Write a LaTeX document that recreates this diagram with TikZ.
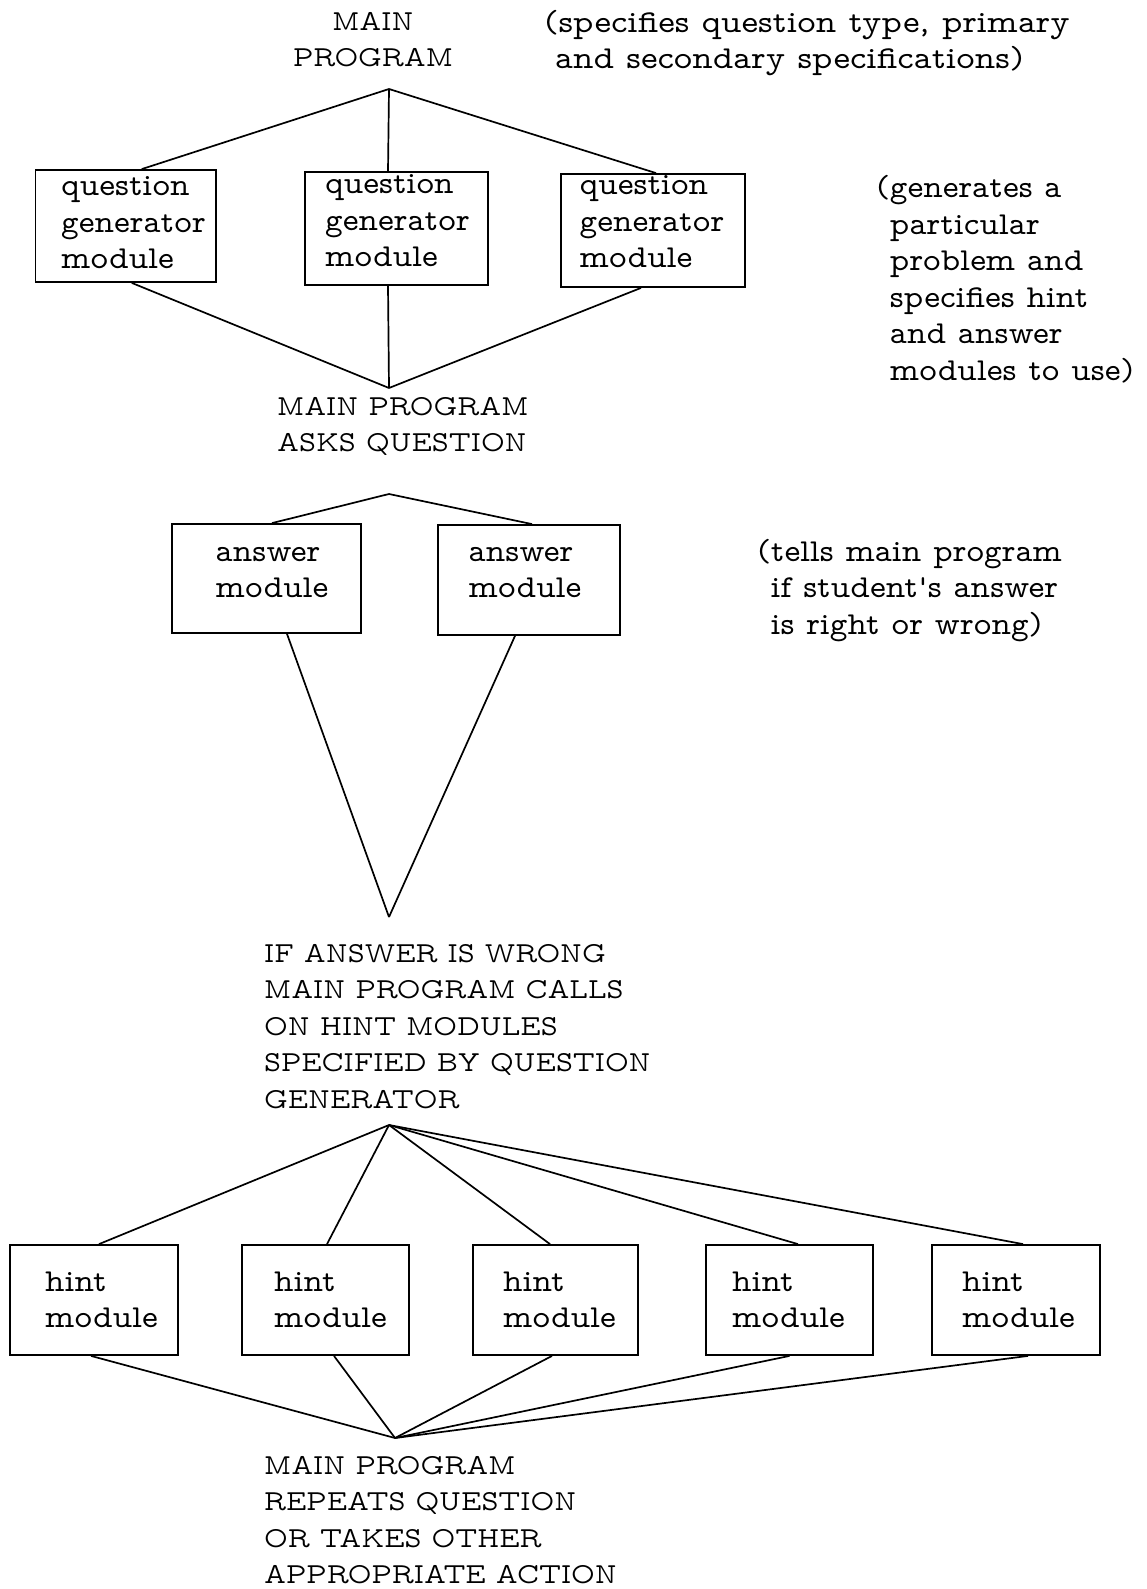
\documentclass[tikz,border=0pt]{standalone}
\usepackage{fontspec}
% proportional slab-serif typewriter face for all lettering
\newfontfamily\propface{lmmonoprop10-regular.otf}
\newfontfamily\propwide[FakeStretch=1.05]{lmmonoprop10-regular.otf}
\newfontfamily\propwider[FakeStretch=1.1]{lmmonoprop10-regular.otf}
% invisible rule that fixes the height of a first line above its baseline
\newcommand\ascstrut{\rule{0pt}{24pt}}
\begin{document}
\begin{tikzpicture}[x=1pt,y=-1pt,
  mbox/.style={draw, line width=1.8pt, inner sep=0pt},
  wire/.style={line width=1.7pt},
  caps/.style={font=\fontsize{29}{36.5}\selectfont\propface, inner sep=0pt, align=left},
  type/.style={font=\fontsize{32}{36.5}\selectfont\propwide, inner sep=0pt, align=left},
  widetype/.style={font=\fontsize{32}{36.5}\selectfont\propwider, inner sep=0pt, align=left},
]
\useasboundingbox (0,0) rectangle (1146,1589);

% ---- top level: main program and question generators
\node[caps, align=center, anchor=north] (mainp) at (373,6) {\ascstrut MAIN\\PROGRAM};
\node[widetype, anchor=north west] (note1) at (544,8)
  {\ascstrut(specifies question type, primary\\\hspace*{11pt}and secondary specifications)};

\node[mbox, minimum width=180.5, minimum height=112] (q1) at (125.75,226) {};
\node[mbox, minimum width=183, minimum height=113] (q2) at (396.5,228.5) {};
\node[mbox, minimum width=184, minimum height=113] (q3) at (653,230.5) {};
\node[type, anchor=north west] (q1t) at (61,171.5) {\ascstrut question\\generator\\module};
\node[type, anchor=north west] (q2t) at (325,169.5) {\ascstrut question\\generator\\module};
\node[type, anchor=north west] (q3t) at (579.5,170.5) {\ascstrut question\\generator\\module};

\node[type, anchor=north west] (note2) at (876,173.5)
  {\ascstrut(generates a\\\phantom{(}particular\\\phantom{(}problem and\\\phantom{(}specifies hint\\\phantom{(}and answer\\\phantom{(}modules to use)};

\coordinate (top0) at (389,89);
\draw[wire] (top0) -- ([xshift=16pt]q1.north);
\draw[wire] (top0) -- ([xshift=-8.5pt]q2.north);
\draw[wire] (top0) -- ([xshift=3pt]q3.north);

% ---- asking the question
\node[caps, anchor=north west] (ask) at (277,391) {\ascstrut MAIN PROGRAM\\ASKS QUESTION};
\coordinate (ask0) at (389,388);
\coordinate (ask1) at (389,494);
\draw[wire] ([xshift=6pt]q1.south) -- (ask0);
\draw[wire] ([xshift=-8.5pt]q2.south) -- (ask0);
\draw[wire] ([xshift=-12pt]q3.south) -- (ask0);

\node[mbox, minimum width=189, minimum height=109] (a1) at (266.5,578.5) {};
\node[mbox, minimum width=182, minimum height=110] (a2) at (529,580) {};
\node[type, anchor=north west] (a1t) at (215.5,537) {\ascstrut answer\\module};
\node[type, anchor=north west] (a2t) at (468.5,537) {\ascstrut answer\\module};
\node[type, anchor=north west] (note3) at (757,537)
  {\ascstrut(tells main program\\\phantom{(}if student's answer\\\phantom{(}is right or wrong)};

\draw[wire] (ask1) -- ([xshift=5.5pt]a1.north);
\draw[wire] (ask1) -- ([xshift=3pt]a2.north);

% ---- wrong answer: hints
\coordinate (ifa0) at (389,917);
\draw[wire] ([xshift=20.5pt]a1.south) -- (ifa0);
\draw[wire] ([xshift=-14pt]a2.south) -- (ifa0);

\node[caps, anchor=north west] (ifans) at (264,938)
  {\ascstrut IF ANSWER IS WRONG\\MAIN PROGRAM CALLS\\ON HINT MODULES\\SPECIFIED BY QUESTION\\GENERATOR};
\coordinate (ifa1) at (389,1125);

\node[mbox, minimum width=168, minimum height=110] (h1) at (94,1300) {};
\node[mbox, minimum width=167, minimum height=110] (h2) at (325.5,1300) {};
\node[mbox, minimum width=165, minimum height=110] (h3) at (555.5,1300) {};
\node[mbox, minimum width=167, minimum height=110] (h4) at (789.5,1300) {};
\node[mbox, minimum width=168, minimum height=110] (h5) at (1016,1300) {};
\node[type, anchor=north west] (h1t) at (45,1267) {\ascstrut hint\\module};
\node[type, anchor=north west] (h2t) at (274,1267) {\ascstrut hint\\module};
\node[type, anchor=north west] (h3t) at (503,1267) {\ascstrut hint\\module};
\node[type, anchor=north west] (h4t) at (732,1267) {\ascstrut hint\\module};
\node[type, anchor=north west] (h5t) at (962,1267) {\ascstrut hint\\module};

\draw[wire] (ifa1) -- ([xshift=5pt]h1.north);
\draw[wire] (ifa1) -- ([xshift=1.5pt]h2.north);
\draw[wire] (ifa1) -- ([xshift=-5.5pt]h3.north);
\draw[wire] (ifa1) -- ([xshift=8.5pt]h4.north);
\draw[wire] (ifa1) -- ([xshift=7pt]h5.north);

% ---- back to the main program
\coordinate (rep0) at (395,1438);
\draw[wire] ([xshift=-3pt]h1.south) -- (rep0);
\draw[wire] ([xshift=8.5pt]h2.south) -- (rep0);
\draw[wire] ([xshift=-3.5pt]h3.south) -- (rep0);
\draw[wire] (h4.south) -- (rep0);
\draw[wire] ([xshift=12pt]h5.south) -- (rep0);

\node[caps, anchor=north west] (repeat) at (264,1450)
  {\ascstrut MAIN PROGRAM\\REPEATS QUESTION\\OR TAKES OTHER\\APPROPRIATE ACTION};
\end{tikzpicture}
\end{document}
